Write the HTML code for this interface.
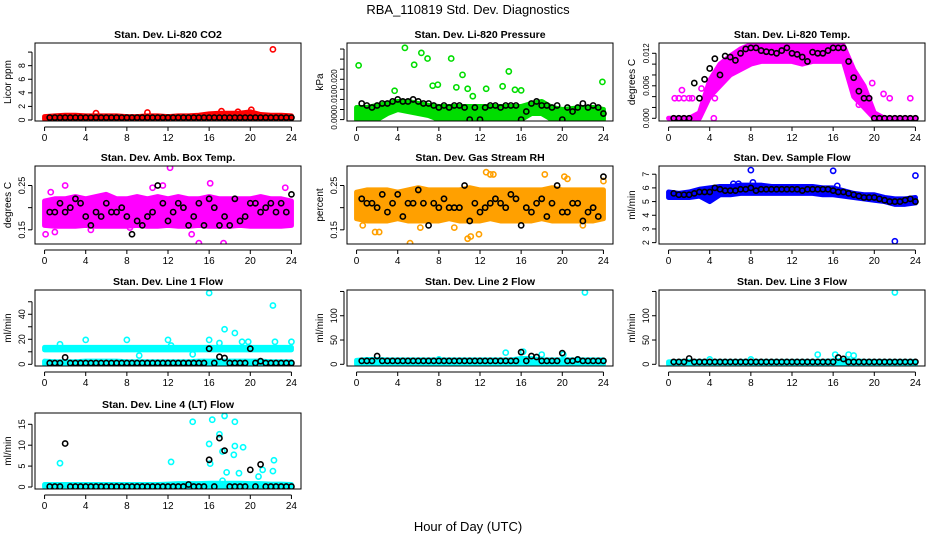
<!DOCTYPE html>
<html><head><meta charset="utf-8"><style>
body{margin:0;background:#fff}
svg{display:block;font-family:"Liberation Sans",sans-serif}
</style></head><body>
<svg id="chart" width="936" height="540" viewBox="0 0 936 540" xmlns="http://www.w3.org/2000/svg">
<rect width="936" height="540" fill="#fff"/>
<text x="468" y="14" text-anchor="middle" font-size="13">RBA_110819  Std. Dev. Diagnostics</text>
<text x="468" y="531" text-anchor="middle" font-size="13">Hour of Day (UTC)</text>
</svg>
<script>
const HALF=[0.5,1,1.5,2,2.5,3,3.5,4,4.5,5,5.5,6,6.5,7,7.5,8,8.5,9,9.5,10,10.5,11,11.5,12,12.5,13,13.5,14,14.5,15,15.5,16,16.5,17,17.5,18,18.5,19,19.5,20,20.5,21,21.5,22,22.5,23,23.5,24];
const HOURS=[0,1,2,3,4,5,6,7,8,9,10,11,12,13,14,15,16,17,18,19,20,21,22,23,24];
const xTicks=[0,4,8,12,16,20,24];

const co2Black=[.35,.35,.35,.35,.35,.35,.35,.35,.35,.35,.35,.35,.35,.35,.35,.35,.35,.35,.35,.35,.35,.35,.35,.35,.35,.35,.35,.35,.35,.35,.35,.35,.35,.35,.35,.35,.35,.35,.35,.35,.35,.35,.35,.35,.35,.35,.35,.35];
const co2Lo=[.1,.1,.1,.1,.1,.1,.1,.1,.1,.1,.1,.1,.1,.1,.1,.1,.1,.1,.1,.1,.1,.1,.1,.1,.1];
const co2Hi=[.5,.6,.7,.7,.6,.6,.6,.6,.5,.5,.6,.6,.5,.6,.6,.7,.9,1.0,1.0,1.0,1.2,.8,.7,.7,.6];
const co2OutX=[22.2,5,10,17.2,18.8,20.1];
const co2OutY=[10.4,1.0,1.1,1.3,1.2,1.5];

const presBlack=[.008,.007,.006,.007,.008,.008,.009,.010,.009,.009,.010,.009,.008,.008,.007,.006,.007,.006,.007,.007,.006,0,.006,0,.006,.007,.007,.006,.007,.007,.007,0,.004,.008,.009,.007,.007,.006,.007,0,.006,.004,.006,.008,.006,.007,.006,.003];
const presLo=[0,0,0,.003,.005,.004,.003,.002,0,0,0,0,0,0,0,0,0,.003,.003,0,0,0,0,0,0];
const presHi=[.006,.006,.007,.008,.009,.009,.008,.007,.0065,.0065,.0065,.0065,.0065,.0065,.0065,.0065,.0065,.008,.009,.006,.005,.0055,.006,.006,.005];
const presOutX=[0.2,4.7,5.6,6.3,6.9,9.2,10.3,14.8,7.4,7.9,9.7,10.8,11.3,12.6,14.2,15.4,16,23.9,3.7];
const presOutY=[.0269,.0356,.0272,.0331,.0303,.0303,.0222,.0239,.0168,.0173,.016,.0153,.0116,.0153,.0165,.0148,.0145,.0187,.0143];

const tempBlack=[0,0,0,0,.0065,.0037,.0072,.0092,.0110,.0080,.0115,.0113,.0107,.0120,.0128,.0130,.0130,.0125,.0123,.0122,.0120,.0125,.0130,.0120,.0118,.0113,.0105,.0122,.0120,.0120,.0125,.0130,.0130,.0130,.0105,.0075,.0050,.0037,.0037,0,0,0,0,0,0,0,0,0];
const tempLo=[0,0,0,0,.004,.006,.008,.009,.010,.0105,.0105,.0105,.0105,.0100,.0105,.0105,.0105,.0105,.004,.002,0,0,0,0,0];
const tempHi=[0,0,0,.001,.007,.010,.0115,.0128,.0136,.0138,.0138,.0138,.0138,.0138,.0138,.0138,.0138,.0134,.009,.006,.001,0,0,0,0];
const tempOutX=[0.6,1.0,1.5,2.0,2.3,1.3,4.5,4.4,20.9,21.5,23.5,18.5,19.8,19.5,3.2];
const tempOutY=[.0037,.0037,.0037,.0037,.0037,.0052,.0037,0,.0045,.0037,.0037,.0025,.0065,.0037,.0055];

const ambBlack=[.19,.19,.21,.19,.20,.22,.21,.18,.16,.19,.18,.21,.19,.19,.20,.18,.14,.17,.16,.18,.19,.25,.21,.17,.19,.21,.20,.16,.18,.21,.16,.22,.20,.16,.18,.16,.22,.17,.18,.21,.21,.19,.20,.21,.19,.21,.19,.23];
const ambLo=[.16,.158,.158,.158,.16,.158,.158,.158,.158,.16,.158,.158,.16,.158,.158,.16,.158,.158,.158,.16,.158,.158,.158,.158,.16];
const ambHi=[.215,.22,.22,.225,.22,.225,.23,.22,.22,.225,.22,.225,.22,.225,.22,.22,.225,.22,.22,.22,.22,.225,.22,.22,.215];
const ambOutX=[0.1,2.0,12.2,15.0,17.4,16.1,10.5,11.5,0.6,23.4,1.0,8.3,4.5,14.3];
const ambOutY=[.14,.25,.29,.12,.12,.255,.245,.25,.235,.245,.145,.155,.15,.14];

const rhBlack=[.22,.21,.21,.20,.23,.19,.21,.23,.18,.21,.21,.24,.21,.16,.21,.20,.22,.20,.20,.20,.25,.17,.21,.19,.20,.21,.22,.21,.20,.23,.22,.16,.20,.19,.21,.22,.18,.21,.25,.19,.19,.21,.21,.17,.19,.20,.18,.27];
const rhLo=[.175,.17,.17,.17,.175,.17,.17,.17,.17,.175,.17,.17,.17,.175,.17,.17,.17,.17,.175,.17,.17,.17,.17,.17,.175];
const rhHi=[.235,.24,.24,.24,.235,.24,.245,.24,.24,.24,.24,.245,.24,.24,.24,.24,.24,.24,.24,.245,.24,.24,.24,.24,.24];
const rhOutX=[5.2,10.8,11.1,12.6,13.0,13.3,18.3,20.2,20.5,0.6,2.2,6.2,11.9,22.0,24.0,1.8,9.5];
const rhOutY=[.12,.13,.135,.28,.275,.275,.275,.27,.265,.16,.145,.155,.14,.16,.26,.145,.155];

const flowBlack=[5.6,5.5,5.5,5.5,5.6,5.7,5.7,5.7,6.0,5.9,5.8,5.8,5.8,5.9,5.9,6.0,5.8,5.9,5.9,5.9,5.9,5.9,5.9,5.9,5.9,5.8,5.9,5.9,5.9,5.9,5.9,5.8,5.7,5.7,5.6,5.5,5.4,5.3,5.3,5.3,5.2,5.1,5.0,5.0,5.0,5.1,5.2,5.0];
const flowLo=[5.3,5.3,5.3,5.4,5.0,5.5,5.5,5.6,5.6,5.6,5.6,5.6,5.6,5.6,5.6,5.5,5.5,5.4,5.3,5.2,5.1,5.0,4.8,4.8,4.9];
const flowHi=[5.7,5.6,5.7,5.9,6.0,6.1,6.1,6.2,6.2,6.2,6.1,6.1,6.1,6.1,6.1,6.0,6.0,5.8,5.6,5.5,5.5,5.3,5.2,5.2,5.3];
const flowOutX=[8,16,22,24,6.3,6.8,16.4,8.2];
const flowOutY=[7.3,7.25,2.1,6.9,6.3,6.3,6.15,6.4];

const l1Black=[1,1,1,5.5,1,1,1,1,1,1,1,1,1,1,1,1,1,1,1,1,1,1,1,1,1,1,1,1,1,1,1,12.5,1,6,5,1,1,1,1,12.5,1,2.5,1,1,1,1,1,1];
const l1Lo=[11.5,11.5,11.5,11.5,11.5,11.5,11.5,11.5,11.5,11.5,11.5,11.5,11.5,11.5,11.5,11.5,11.5,11.5,11.5,11.5,11.5,11.5,11.5,11.5,11.5];
const l1Hi=[13.5,13.5,13.5,13.5,13.5,13.5,13.5,13.5,13.5,13.5,13.5,13.5,13.5,13.5,13.5,13.5,13.5,13.5,13.5,13.5,13.5,13.5,13.5,13.5,13.5];
const l1Lo2=[0,0,0,0,0,0,0,0,0,0,0,0,0,0,0,0,0,0,0,0,0,0,0,0,0];
const l1Hi2=[2.5,2,2,2,2.5,2.5,2.5,2.5,2,2,2,2,2,2,2,2.5,2.5,2.5,2.5,2.5,2.5,2.5,2,2,2];
const l1OutX=[1.5,4,8,12,16,16,17.5,18.5,19.2,19.8,22.2,22.4,24,9.2,14.4,17,12.3];
const l1OutY=[16,19.5,19.5,19.5,57,19.5,28,25,18,18,47,18,18,7,8,17,15];

const l2Black=[7,7,7,17,7,7,7,7,7,7,7,7,7,7,7,7,7,7,7,7,7,7,7,7,7,7,7,7,7,7,7,25,7,17,15,7,7,7,7,23,7,7,10,7,7,7,7,7];
const l2Lo=[0,0,0,0,0,0,0,0,0,0,0,0,0,0,0,0,0,0,0,0,0,0,0,0,0];
const l2Hi=[8,10,10,9,9,9,9,9,9,9,9,9,9,9,9,9,12,12,9,9,9,9,9,9,9];
const l2OutX=[14.5,16.2,18,22.2,8,20.1];
const l2OutY=[24,26,20,148,10,20];

const l3Black=[5,5,5,12,5,5,5,5,5,5,5,5,5,5,5,5,5,5,5,5,5,5,5,5,5,5,5,5,5,5,5,5,14,11,5,5,5,5,5,5,5,5,5,5,5,5,5,5];
const l3Lo=[0,0,0,0,0,0,0,0,0,0,0,0,0,0,0,0,0,0,0,0,0,0,0,0,0];
const l3Hi=[5,6,6,6,6,6,6,6,6,6,6,6,6,6,6,6,7,8,7,6,6,6,6,6,6];
const l3OutX=[22,14.5,16.2,17.5,18,4,8];
const l3OutY=[148,20,20,20,18,10,10];

const l4Black=[.1,.1,.1,10.4,.1,.1,.1,.1,.1,.1,.1,.1,.1,.1,.1,.1,.1,.1,.1,.1,.1,.1,.1,.1,.1,.1,.1,.6,.1,.1,.1,6.5,.1,11.7,8.7,.1,.1,.1,.1,4.1,.1,5.4,.1,.1,.1,.1,.1,.1];
const l4Lo=[0,0,0,0,0,0,0,0,0,0,0,0,0,0,0,0,0,0,0,0,0,0,0,0,0];
const l4Hi=[.6,.6,.6,.6,.6,.6,.6,.6,.6,.6,.6,.6,.7,.8,.8,.8,.9,.9,.9,.9,.8,.8,.7,.7,.6];
const l4OutX=[1.5,12.3,14.4,16,16.1,16.3,17,17.3,17.5,17.7,18.5,18.4,18.5,18.9,19.3,20.8,21.2,22.2,22.3,17.3];
const l4OutY=[5.7,6,15.6,10.3,5.6,16.1,12.6,8.5,17,3.5,15.6,7.7,9.8,3.3,9.5,2.5,4.1,3.8,6.4,1.5];

const panels=[
 {name:'co2',title:'Stan. Dev. Li-820 CO2',ylab:'Licor ppm',col:0,row:0,ylim:[-0.15,11.34],ticks:[0,2,4,6,8,10],labels:[0,2,4,6,8],fmt:0,fs:9,color:'#ff0000',band:[[co2Lo,co2Hi]],ox:co2OutX,oy:co2OutY,black:co2Black},
 {name:'pressure',title:'Stan. Dev. Li-820 Pressure',ylab:'kPa',col:1,row:0,ylim:[-0.0007,0.038],ticks:[0,.005,.01,.015,.02,.025,.03,.035],labels:[0,.01,.02],fmt:3,fs:8,color:'#00dd00',band:[[presLo,presHi]],ox:presOutX,oy:presOutY,black:presBlack},
 {name:'temp',title:'Stan. Dev. Li-820 Temp.',ylab:'degrees C',col:2,row:0,ylim:[-0.0005,0.0139],ticks:[0,.002,.004,.006,.008,.010,.012],labels:[0,.006,.012],fmt:3,fs:8,color:'#ff00ff',band:[[tempLo,tempHi]],ox:tempOutX,oy:tempOutY,black:tempBlack},
 {name:'amb-box-temp',title:'Stan. Dev. Amb. Box Temp.',ylab:'degrees C',col:0,row:1,ylim:[0.118,0.294],ticks:[.15,.2,.25],labels:[.15,.25],fmt:2,fs:9,color:'#ff00ff',band:[[ambLo,ambHi]],ox:ambOutX,oy:ambOutY,black:ambBlack},
 {name:'gas-rh',title:'Stan. Dev. Gas Stream RH',ylab:'percent',col:1,row:1,ylim:[0.118,0.294],ticks:[.15,.2,.25],labels:[.15,.25],fmt:2,fs:9,color:'#ffa000',band:[[rhLo,rhHi]],ox:rhOutX,oy:rhOutY,black:rhBlack},
 {name:'sample-flow',title:'Stan. Dev. Sample Flow',ylab:'ml/min',col:2,row:1,ylim:[1.9,7.6],ticks:[2,3,4,5,6,7],labels:[2,3,4,5,6,7],fmt:0,fs:9,color:'#0000ff',band:[[flowLo,flowHi]],ox:flowOutX,oy:flowOutY,black:flowBlack},
 {name:'line1',title:'Stan. Dev. Line 1 Flow',ylab:'ml/min',col:0,row:2,ylim:[-1.36,59.4],ticks:[0,10,20,30,40,50],labels:[0,20,40],fmt:0,fs:9,color:'#00ffff',band:[[l1Lo,l1Hi],[l1Lo2,l1Hi2]],ox:l1OutX,oy:l1OutY,black:l1Black},
 {name:'line2',title:'Stan. Dev. Line 2 Flow',ylab:'ml/min',col:1,row:2,ylim:[-3.5,153],ticks:[0,50,100,150],labels:[0,50,100],fmt:0,fs:9,color:'#00ffff',band:[[l2Lo,l2Hi]],ox:l2OutX,oy:l2OutY,black:l2Black},
 {name:'line3',title:'Stan. Dev. Line 3 Flow',ylab:'ml/min',col:2,row:2,ylim:[-3.5,153],ticks:[0,50,100,150],labels:[0,50,100],fmt:0,fs:9,color:'#00ffff',band:[[l3Lo,l3Hi]],ox:l3OutX,oy:l3OutY,black:l3Black},
 {name:'line4',title:'Stan. Dev. Line 4 (LT) Flow',ylab:'ml/min',col:0,row:3,ylim:[-0.48,17.7],ticks:[0,5,10,15],labels:[0,5,10,15],fmt:0,fs:9,color:'#00ffff',band:[[l4Lo,l4Hi]],ox:l4OutX,oy:l4OutY,black:l4Black}
];
const COLL=[35,347,659], BW=266;
const ROWT=[43,166,290,413], ROWB=[121,244,366,489];
const svg=document.getElementById('chart');
const NS='http://www.w3.org/2000/svg';
function mk(tag,attrs,parent){const e=document.createElementNS(NS,tag);for(const k in attrs)e.setAttribute(k,attrs[k]);(parent||svg).appendChild(e);return e;}

panels.forEach(p=>{
  const L=COLL[p.col],R=L+BW,T=ROWT[p.row],B=ROWB[p.row];
  const sx=v=>L+(v+0.93)/25.86*BW;
  const sy=v=>B-(v-p.ylim[0])/(p.ylim[1]-p.ylim[0])*(B-T);
  const g=mk('g',{});
  
  
  const t=mk('text',{x:(L+R)/2,y:T-5,'text-anchor':'middle','font-size':'10.5','font-weight':'bold'},g);
  t.textContent=p.title;
  
  
  const yl=mk('text',{x:0,y:0,'text-anchor':'middle','font-size':'10',transform:`translate(${L-24},${(T+B)/2}) rotate(-90)`},g);
  yl.textContent=p.ylab;
  
  
  const cp=mk('clipPath',{id:'cp-'+p.name},g);
  mk('rect',{x:L,y:T,width:BW,height:B-T},cp);
  const dg=mk('g',{'clip-path':`url(#cp-${p.name})`},g);
  
  
  p.band.forEach(([lo,hi])=>{
    let pts=HOURS.map((h,i)=>`${sx(h)},${sy(hi[i])}`);
    for(let i=HOURS.length-1;i>=0;i--)pts.push(`${sx(HOURS[i])},${sy(lo[i])}`);
    const pg=mk('polygon',{points:pts.join(' '),fill:p.color,stroke:p.color,'stroke-width':5,'stroke-linejoin':'round'},dg);
    
    
  });
  p.ox.forEach((x,i)=>{
    const c=mk('circle',{cx:sx(x),cy:sy(p.oy[i]),r:2.6,fill:'none',stroke:p.color,'stroke-width':1.6},dg);
    
    
  });
  const n=Math.min(HALF.length,p.black.length);
  for(let i=0;i<n;i++){
    const c=mk('circle',{cx:sx(HALF[i]),cy:sy(p.black[i]),r:2.6,fill:'none',stroke:'#000','stroke-width':1.6},dg);
    
    
  }
  const box=mk('rect',{x:L,y:T,width:BW,height:B-T,fill:'none',stroke:'#000','stroke-width':1},g);
  
  
  mk('line',{x1:sx(0),x2:sx(24),y1:B+6,y2:B+6,stroke:'#000'},g);
  xTicks.forEach(v=>{
    mk('line',{x1:sx(v),x2:sx(v),y1:B+6,y2:B+10,stroke:'#000'},g);
    const tx=mk('text',{x:sx(v),y:B+20,'text-anchor':'middle','font-size':'10'},g);
    tx.textContent=v;
    
    
  });
  const tk=p.ticks;
  mk('line',{x1:L-3,x2:L-3,y1:sy(tk[0]),y2:sy(tk[tk.length-1]),stroke:'#000'},g);
  tk.forEach(v=>mk('line',{x1:L-7,x2:L-3,y1:sy(v),y2:sy(v),stroke:'#000'},g));
  p.labels.forEach(v=>{
    const ty=mk('text',{x:0,y:0,'text-anchor':'middle','font-size':p.fs,transform:`translate(${L-10},${sy(v)}) rotate(-90)`},g);
    ty.textContent=v.toFixed(p.fmt);
    
    
  });
});
</script>
</body></html>
